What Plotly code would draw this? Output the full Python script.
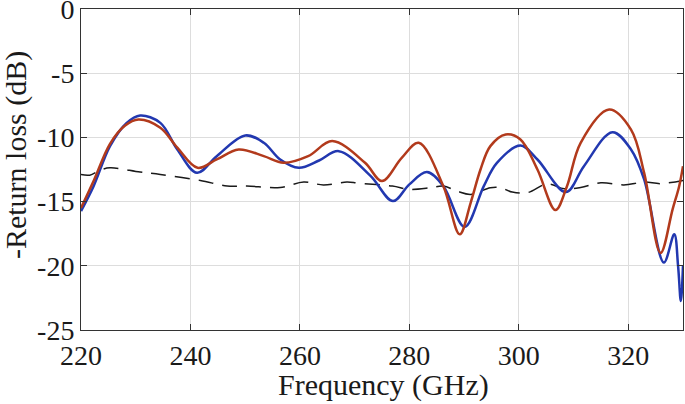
import plotly.graph_objects as go

# ---- data ----
blue_freq = [220, 222.3, 225.3, 228.3, 230.8, 234.5, 237.6, 241.2, 244.8, 250.0, 253.4,
             256.4, 259.8, 263.5, 267.1, 272.9, 277.0, 280.0, 283.2, 286.2, 290.1,
             293.6, 296.0, 300.3, 303.4, 308.6, 311.9, 317.1, 320.5, 322.9, 326.5,
             328.4, 329.1, 329.6, 330]
blue_val = [-15.74, -13.8, -10.68, -8.9, -8.30, -8.87, -10.94, -12.76, -11.46, -9.85, -10.42,
            -11.72, -12.37, -11.8, -11.07, -13.0, -14.96, -13.66, -12.70, -13.79, -16.98,
            -13.79, -11.98, -10.63, -11.72, -14.26, -12.24, -9.59, -10.94, -13.27, -19.75,
            -17.55, -20.0, -22.74, -20.0]

red_freq = [220, 222.3, 225.3, 228.0, 230.5, 234.5, 237.6, 241.3, 244.8, 248.8, 253.4,
            257.0, 261.5, 265.9, 271.9, 275.0, 278.6, 281.7, 286.2, 289.2, 291.2,
            293.0, 294.8, 297.6, 300.3, 303.4, 306.7, 308.8, 311.3, 316.5, 320.5,
            322.9, 325.9, 328.1, 329.3, 330]
red_val = [-15.5, -13.4, -10.5, -9.1, -8.61, -9.25, -10.8, -12.37, -11.72, -10.94, -11.46,
           -11.98, -11.46, -10.29, -11.98, -13.40, -11.59, -10.42, -13.79, -17.55, -15.09,
           -12.5, -10.68, -9.77, -10.16, -12.5, -15.66, -13.8, -10.42, -7.83, -9.39,
           -12.76, -19.0, -15.6, -13.8, -12.24]

sim_freq = [220, 221.6, 223.5, 225.3, 230.8, 234.5, 241.8, 246.7, 250.3, 256.4, 260.7,
            264.3, 268.6, 270.6, 276.9, 280.1, 283.9, 286.2, 288.7, 291.2, 294.8,
            296.7, 298.8, 301.6, 305.2, 308.3, 311.3, 315.0, 319.2, 322.9, 325.9, 330]
sim_val = [-12.89, -12.94, -12.55, -12.37, -12.7, -12.89, -13.35, -13.79, -13.79, -13.9, -13.48,
           -13.7, -13.48, -13.56, -13.79, -14.05, -13.92, -13.79, -14.18, -14.44, -13.92,
           -13.92, -14.26, -14.3, -13.62, -14.0, -13.9, -13.53, -13.7, -13.48, -13.6, -13.35]

x_ticks = [220, 240, 260, 280, 300, 320]
y_ticks = [0, -5, -10, -15, -20, -25]
y_tick_text = ["0", "-5", "-10", "-15", "-20", "-25"]
x_title = "Frequency (GHz)"
y_title = "-Return loss (dB)"

FONT = "'Liberation Serif', 'Times New Roman', 'DejaVu Serif', serif"
TXT = "#1a1a1a"

fig = go.Figure()
fig.add_trace(go.Scatter(x=sim_freq, y=sim_val, mode="lines",
                         line=dict(color="#1a1a1a", width=1.5, dash="15px,9px", shape="spline"),
                         showlegend=False))
fig.add_trace(go.Scatter(x=blue_freq, y=blue_val, mode="lines",
                         line=dict(color="#2238b0", width=2.5, shape="spline", smoothing=1.0),
                         showlegend=False))
fig.add_trace(go.Scatter(x=red_freq, y=red_val, mode="lines",
                         line=dict(color="#b23a1c", width=2.5, shape="spline", smoothing=1.0),
                         showlegend=False))

axis_common = dict(
    showline=True, linecolor="#333333", linewidth=1, mirror="ticks",
    ticks="inside", ticklen=6, tickcolor="#333333", tickwidth=1,
    showgrid=True, gridcolor="#dddddd", gridwidth=1, zeroline=False,
    tickfont=dict(family=FONT, size=28, color=TXT),
    automargin=False, ticklabeloverflow="allow",
)

fig.update_layout(
    width=685, height=404,
    margin=dict(l=81, r=2, t=9, b=74),
    paper_bgcolor="white", plot_bgcolor="white",
    font=dict(family=FONT, color=TXT),
    xaxis=dict(range=[220, 330], tickvals=x_ticks, **axis_common),
    yaxis=dict(range=[-25, 0], tickvals=y_ticks, ticktext=y_tick_text, **axis_common),
    annotations=[
        dict(text=x_title, xref="paper", yref="paper", x=0.502, y=-0.172,
             xanchor="center", yanchor="middle", showarrow=False,
             font=dict(family=FONT, size=30, color=TXT)),
        dict(text=y_title, xref="paper", yref="paper", x=-0.108, y=0.545,
             xanchor="center", yanchor="middle", showarrow=False, textangle=-90,
             font=dict(family=FONT, size=30, color=TXT)),
    ],
)

fig.write_html("out.html",
               config={"displayModeBar": False},
               post_script="document.body.style.margin='0';document.body.style.overflow='hidden';")
